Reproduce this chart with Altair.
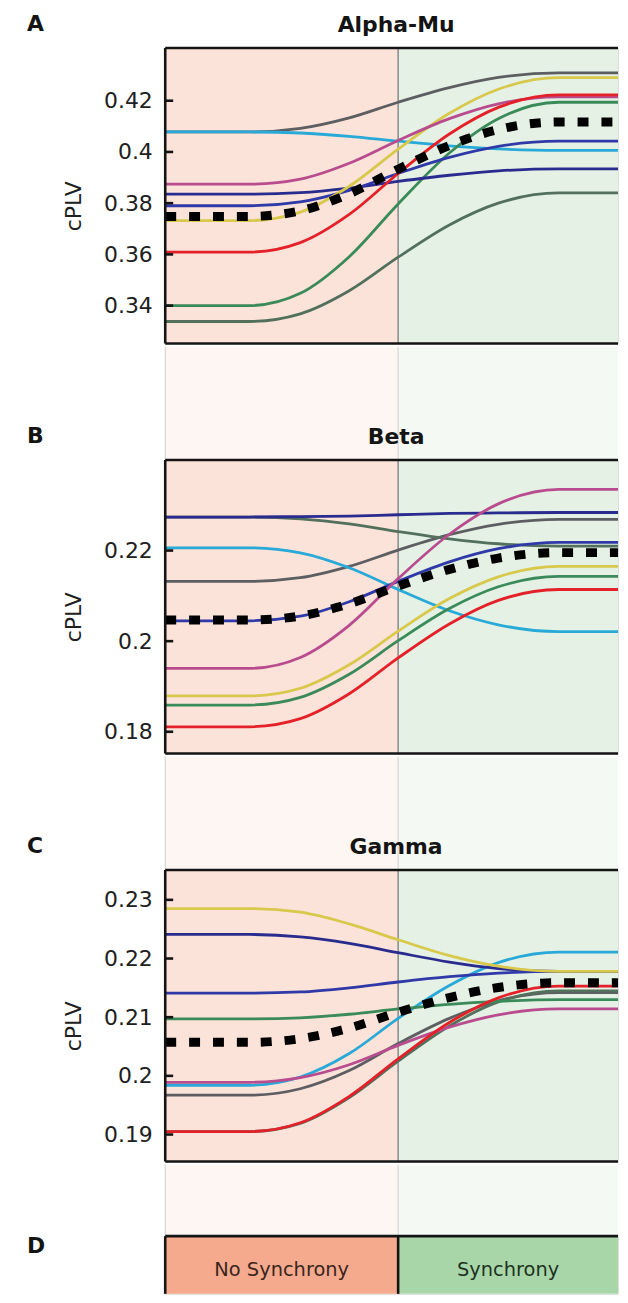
import altair as alt
import pandas as pd

FONT = "DejaVu Sans"

# sample positions along the (unlabelled) time axis: 0 = start, 1.0 = onset of synchrony
T = [0.0, 0.36, 0.58, 0.79, 1.0, 1.22, 1.43, 1.69, 2.0]

# drawing order of the individual traces (later ones are drawn on top)
SUBJECTS = ["gray", "cyan", "darkgreen", "green", "navy", "blue", "yellow", "magenta", "red"]
SUBJECT_COLORS = ["#5d5e62", "#28a9d8", "#52705c", "#3a8a5a", "#2a2b8e", "#2f3aa8",
                  "#d8c84c", "#b94c8f", "#e42129"]

# ---- Alpha-Mu
ALPHA_GRAY = [0.4078, 0.4078, 0.4092, 0.4133, 0.4194, 0.4251, 0.4291, 0.4309, 0.4309]
ALPHA_CYAN = [0.4078, 0.4078, 0.4074, 0.4061, 0.4042, 0.4024, 0.4012, 0.4006, 0.4006]
ALPHA_NAVY = [0.3835, 0.3835, 0.3841, 0.3859, 0.3885, 0.3909, 0.3926, 0.3934, 0.3934]
ALPHA_BLUE = [0.3790, 0.3790, 0.3805, 0.3850, 0.3916, 0.3979, 0.4022, 0.4042, 0.4042]
ALPHA_GREEN = [0.3400, 0.3400, 0.3448, 0.3591, 0.3797, 0.3996, 0.4130, 0.4194, 0.4194]
ALPHA_DARKGREEN = [0.3338, 0.3338, 0.3368, 0.3458, 0.3589, 0.3715, 0.3800, 0.3840, 0.3840]
ALPHA_YELLOW = [0.3732, 0.3732, 0.3765, 0.3866, 0.4011, 0.4151, 0.4245, 0.4290, 0.4290]
ALPHA_MAGENTA = [0.3874, 0.3874, 0.3894, 0.3956, 0.4045, 0.4130, 0.4188, 0.4215, 0.4215]
ALPHA_RED = [0.3609, 0.3609, 0.3646, 0.3756, 0.3916, 0.4070, 0.4174, 0.4223, 0.4223]
ALPHA_DOMAIN = [0.3252, 0.4406]
ALPHA_TICKS = [0.34, 0.36, 0.38, 0.40, 0.42]

# ---- Beta
BETA_GRAY = [0.2132, 0.2132, 0.2140, 0.2165, 0.2201, 0.2235, 0.2258, 0.2269, 0.2269]
BETA_CYAN = [0.2206, 0.2206, 0.2195, 0.2162, 0.2114, 0.2067, 0.2036, 0.2021, 0.2021]
BETA_NAVY = [0.2274, 0.2274, 0.2275, 0.2276, 0.2279, 0.2282, 0.2283, 0.2284, 0.2284]
BETA_BLUE = [0.2045, 0.2045, 0.2055, 0.2087, 0.2132, 0.2175, 0.2204, 0.2218, 0.2218]
BETA_GREEN = [0.1859, 0.1859, 0.1876, 0.1927, 0.2001, 0.2072, 0.2120, 0.2143, 0.2143]
BETA_DARKGREEN = [0.2274, 0.2274, 0.2270, 0.2259, 0.2242, 0.2226, 0.2215, 0.2210, 0.2210]
BETA_YELLOW = [0.1879, 0.1879, 0.1896, 0.1948, 0.2022, 0.2094, 0.2142, 0.2165, 0.2165]
BETA_MAGENTA = [0.1940, 0.1940, 0.1964, 0.2035, 0.2138, 0.2236, 0.2303, 0.2335, 0.2335]
BETA_RED = [0.1811, 0.1811, 0.1829, 0.1884, 0.1963, 0.2038, 0.2090, 0.2114, 0.2114]
BETA_DOMAIN = [0.1752, 0.2400]
BETA_TICKS = [0.18, 0.20, 0.22]

# ---- Gamma
GAMMA_GRAY = [0.1967, 0.1967, 0.1978, 0.2009, 0.2055, 0.2098, 0.2128, 0.2142, 0.2142]
GAMMA_CYAN = [0.1984, 0.1984, 0.1998, 0.2038, 0.2098, 0.2154, 0.2193, 0.2211, 0.2211]
GAMMA_NAVY = [0.2241, 0.2241, 0.2237, 0.2226, 0.2210, 0.2194, 0.2183, 0.2178, 0.2178]
GAMMA_BLUE = [0.2141, 0.2141, 0.2143, 0.2150, 0.2160, 0.2169, 0.2175, 0.2178, 0.2178]
GAMMA_GREEN = [0.2097, 0.2097, 0.2099, 0.2105, 0.2114, 0.2122, 0.2127, 0.2130, 0.2130]
GAMMA_DARKGREEN = [0.1905, 0.1905, 0.1919, 0.1963, 0.2025, 0.2085, 0.2126, 0.2145, 0.2145]
GAMMA_YELLOW = [0.2285, 0.2285, 0.2279, 0.2259, 0.2232, 0.2205, 0.2187, 0.2178, 0.2178]
GAMMA_MAGENTA = [0.1989, 0.1989, 0.1997, 0.2019, 0.2052, 0.2083, 0.2104, 0.2114, 0.2114]
GAMMA_RED = [0.1905, 0.1905, 0.1920, 0.1965, 0.2029, 0.2091, 0.2133, 0.2153, 0.2153]
GAMMA_DOMAIN = [0.1854, 0.2351]
GAMMA_TICKS = [0.19, 0.20, 0.21, 0.22, 0.23]

# ---- condition segments
SEGMENTS = ["No Synchrony", "Synchrony"]
SEG_EDGES = [0.0, 1.0, 1.944]

# ---- styling
W = 455
FRAME_FILLS = ["#fbe3d9", "#e4f1e4"]
GAP_FILLS = ["#fdf6f3", "#f4f9f4"]
D_FILLS = ["#f5aa8d", "#a9d6a9"]
D_TEXT = ["#3a2620", "#1d3321"]
INK = "#141414"
SW = 2.6

xsc = alt.Scale(domain=[SEG_EDGES[0], SEG_EDGES[2]], nice=False, zero=False)
ONE = pd.DataFrame({"k": [0]})


def line_table(series):
    rows = []
    for subj, vals in zip(SUBJECTS, series):
        for t, v in zip(T, vals):
            rows.append({"t": t, "v": v, "subject": subj})
    return pd.DataFrame(rows)


def region_table(fills, text_cols=None):
    d = {"x0": SEG_EDGES[:2], "x1": SEG_EDGES[1:], "fill": fills, "label": SEGMENTS}
    if text_cols:
        d["tcol"] = text_cols
    return pd.DataFrame(d)


def anchor_layer(y):
    # invisible 1px marker that pins the left (and for panel A, top) layout bound
    return alt.Chart(ONE).mark_rect(fill="white").encode(
        x=alt.value(-157), x2=alt.value(-156), y=alt.value(y), y2=alt.value(y + 1))


def gap_layers(gap):
    bg = alt.Chart(region_table(GAP_FILLS)).mark_rect().encode(
        x=alt.X("x0:Q", scale=xsc, axis=None), x2="x1:Q",
        y=alt.value(-gap), y2=alt.value(0),
        fill=alt.Fill("fill:N", scale=None))
    vlines = alt.Chart(pd.DataFrame({"x": SEG_EDGES[:2]})).mark_rule(
        color="#d6d6d6", strokeWidth=1.2).encode(
        x=alt.X("x:Q", scale=xsc, axis=None), y=alt.value(-gap), y2=alt.value(0))
    return [bg, vlines]


def letter_layer(letter, y):
    return alt.Chart(ONE).mark_text(
        font=FONT, fontSize=22, fontWeight="bold", color=INK,
        align="left", baseline="alphabetic").encode(
        x=alt.value(-139), y=alt.value(y), text=alt.value(letter))


def curve_panel(title, letter, series, domain, ticks, height, gap=None):
    ysc = alt.Scale(domain=domain, nice=False, zero=False)
    yax = alt.Axis(values=ticks, format="~g", domain=False, ticks=False, tickSize=0,
                   grid=False, labelFont=FONT, labelFontSize=22, labelColor="#202020",
                   labelPadding=13, title="cPLV", titleFont=FONT, titleFontSize=22,
                   titleFontWeight="normal", titleColor="#202020", titleX=-92,
                   titleY=height / 2 + 10, titleAngle=270, titleAlign="center",
                   titleBaseline="middle")
    df = line_table(series)
    layers = [anchor_layer(-36 if gap is None else 0)]
    if gap:
        layers += gap_layers(gap)
    layers.append(alt.Chart(region_table(FRAME_FILLS)).mark_rect().encode(
        x=alt.X("x0:Q", scale=xsc, axis=None), x2="x1:Q",
        y=alt.value(0), y2=alt.value(height),
        fill=alt.Fill("fill:N", scale=None)))
    layers.append(alt.Chart(pd.DataFrame({"x": [SEG_EDGES[1]]})).mark_rule(
        color="#8e8e8e", strokeWidth=1.6).encode(
        x=alt.X("x:Q", scale=xsc, axis=None), y=alt.value(0), y2=alt.value(height)))
    layers.append(alt.Chart(df).mark_line(
        interpolate="monotone", strokeWidth=2.8, clip=True).encode(
        x=alt.X("t:Q", scale=xsc, axis=None),
        y=alt.Y("v:Q", scale=ysc, axis=yax),
        stroke=alt.Stroke("subject:N", scale=alt.Scale(domain=SUBJECTS, range=SUBJECT_COLORS),
                          legend=None)))
    layers.append(alt.Chart(df).transform_aggregate(
        m="mean(v)", groupby=["t"]).mark_line(
        interpolate="monotone", color="black", strokeWidth=9, strokeDash=[11, 13],
        strokeCap="butt", clip=True).encode(
        x=alt.X("t:Q", scale=xsc, axis=None),
        y=alt.Y("m:Q", scale=ysc, axis=yax)))
    layers.append(alt.Chart(pd.DataFrame({"tick": ticks})).mark_rule(
        color=INK, strokeWidth=SW).encode(
        x=alt.value(0), x2=alt.value(8),
        y=alt.Y("tick:Q", scale=ysc, axis=yax)))
    # frame (top, bottom, left; the right side runs off the figure)
    layers.append(alt.Chart(ONE).mark_rule(color=INK, strokeWidth=SW).encode(
        x=alt.value(0), x2=alt.value(W), y=alt.value(0)))
    layers.append(alt.Chart(ONE).mark_rule(color=INK, strokeWidth=SW).encode(
        x=alt.value(0), x2=alt.value(W), y=alt.value(height)))
    layers.append(alt.Chart(ONE).mark_rule(color=INK, strokeWidth=SW).encode(
        x=alt.value(0), y=alt.value(0), y2=alt.value(height)))
    layers.append(alt.Chart(ONE).mark_text(
        font=FONT, fontSize=22, fontWeight="bold", color=INK,
        align="center", baseline="alphabetic").encode(
        x=alt.value(232), y=alt.value(-16), text=alt.value(title)))
    layers.append(letter_layer(letter, -17))
    return alt.layer(*layers).properties(width=W, height=height)


panel_a = curve_panel("Alpha-Mu", "A",
                      [ALPHA_GRAY, ALPHA_CYAN, ALPHA_DARKGREEN, ALPHA_GREEN, ALPHA_NAVY,
                       ALPHA_BLUE, ALPHA_YELLOW, ALPHA_MAGENTA, ALPHA_RED],
                      ALPHA_DOMAIN, ALPHA_TICKS, 297)
panel_b = curve_panel("Beta", "B",
                      [BETA_GRAY, BETA_CYAN, BETA_DARKGREEN, BETA_GREEN, BETA_NAVY,
                       BETA_BLUE, BETA_YELLOW, BETA_MAGENTA, BETA_RED],
                      BETA_DOMAIN, BETA_TICKS, 295, gap=113.7)
panel_c = curve_panel("Gamma", "C",
                      [GAMMA_GRAY, GAMMA_CYAN, GAMMA_DARKGREEN, GAMMA_GREEN, GAMMA_NAVY,
                       GAMMA_BLUE, GAMMA_YELLOW, GAMMA_MAGENTA, GAMMA_RED],
                      GAMMA_DOMAIN, GAMMA_TICKS, 293, gap=113.7)

# ---- panel D: condition bar
DH = 58
d_layers = [anchor_layer(0)] + gap_layers(71.7)
d_layers.append(alt.Chart(region_table(D_FILLS)).mark_rect().encode(
    x=alt.X("x0:Q", scale=xsc, axis=None), x2="x1:Q",
    y=alt.value(0), y2=alt.value(DH),
    fill=alt.Fill("fill:N", scale=None)))
d_layers.append(alt.Chart(region_table(D_FILLS, D_TEXT)).transform_calculate(
    mid="(datum.x0 + datum.x1) / 2").mark_text(
    font=FONT, fontSize=19.5, align="center", baseline="middle").encode(
    x=alt.X("mid:Q", scale=xsc, axis=None), y=alt.value(34),
    text="label:N", fill=alt.Fill("tcol:N", scale=None)))
d_layers.append(alt.Chart(pd.DataFrame({"x": [SEG_EDGES[1]]})).mark_rule(
    color=INK, strokeWidth=SW).encode(
    x=alt.X("x:Q", scale=xsc, axis=None), y=alt.value(0), y2=alt.value(DH)))
d_layers.append(alt.Chart(ONE).mark_rule(color=INK, strokeWidth=SW).encode(
    x=alt.value(0), x2=alt.value(W), y=alt.value(0)))
d_layers.append(alt.Chart(ONE).mark_rule(color=INK, strokeWidth=SW).encode(
    x=alt.value(0), y=alt.value(0), y2=alt.value(DH)))
d_layers.append(letter_layer("D", 17))
panel_d = alt.layer(*d_layers).properties(width=W, height=DH)

chart = alt.vconcat(panel_a, panel_b, panel_c, panel_d, spacing=0).properties(
    padding=0).configure_view(stroke="transparent").configure(background="white")

chart.save("out.html", embed_options={"renderer": "svg", "actions": False})
